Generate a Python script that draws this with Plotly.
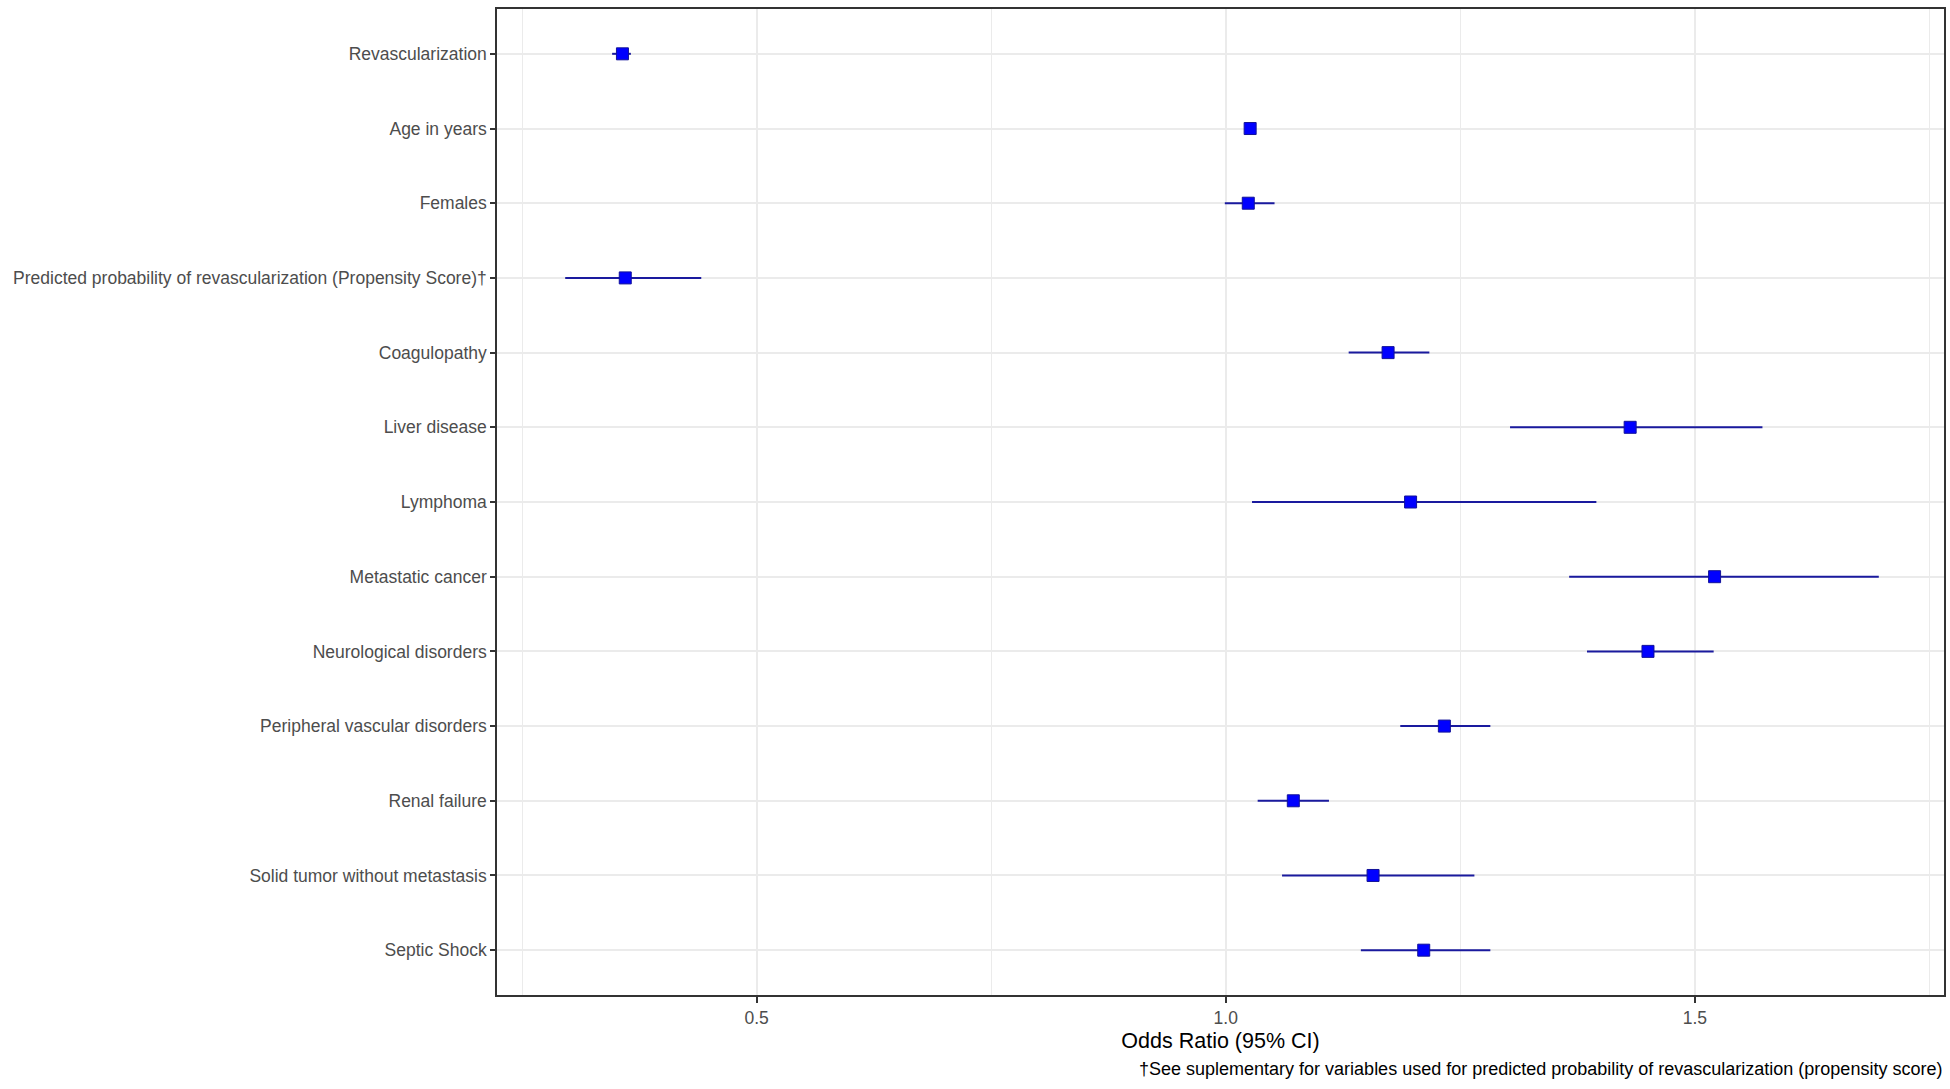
import plotly.graph_objects as go

# ---- data ----
labels = [
    "Revascularization",
    "Age in years",
    "Females",
    "Predicted probability of revascularization (Propensity Score)\u2020",
    "Coagulopathy",
    "Liver disease",
    "Lymphoma",
    "Metastatic cancer",
    "Neurological disorders",
    "Peripheral vascular disorders",
    "Renal failure",
    "Solid tumor without metastasis",
    "Septic Shock",
]
odds_ratio = [0.357, 1.026, 1.024, 0.360, 1.173, 1.431, 1.197, 1.521, 1.450, 1.233, 1.072, 1.157, 1.211]
ci_low =     [0.346, 1.022, 0.999, 0.296, 1.131, 1.303, 1.028, 1.366, 1.385, 1.186, 1.034, 1.060, 1.144]
ci_high =    [0.366, 1.030, 1.052, 0.441, 1.217, 1.572, 1.395, 1.696, 1.520, 1.282, 1.110, 1.265, 1.282]
x_ticks = [0.5, 1.0, 1.5]
x_tick_labels = ["0.5", "1.0", "1.5"]
null_value = 1.0
x_title = "Odds Ratio (95% CI)"
caption = "\u2020See suplementary for variables used for predicted probability of revascularization (propensity score)"

FONT = "Liberation Sans, Arial, sans-serif"

fig = go.Figure()
fig.add_trace(go.Scatter(
    x=odds_ratio,
    y=labels,
    mode="markers",
    marker=dict(symbol="square", size=12, color="#0000ff",
                line=dict(color="#12129a", width=1)),
    error_x=dict(
        type="data", symmetric=False,
        array=[h - o for h, o in zip(ci_high, odds_ratio)],
        arrayminus=[o - l for o, l in zip(odds_ratio, ci_low)],
        width=0, thickness=2, color="#1a1a9e",
    ),
    showlegend=False,
    hoverinfo="x+y",
))

fig.add_vline(x=null_value, line=dict(color="black", width=1.5, dash="dash"), layer="below")

fig.update_layout(
    width=1950, height=1089,
    margin=dict(l=497, r=6, t=9, b=94, autoexpand=False),
    paper_bgcolor="white", plot_bgcolor="white",
    font=dict(family=FONT, size=17.5, color="#4D4D4D"),
    xaxis=dict(
        range=[0.2233, 1.7655],
        automargin=False,
        tickvals=x_ticks, ticktext=x_tick_labels,
        ticks="outside", ticklen=6, tickwidth=1.5, tickcolor="#333333",
        tickfont=dict(size=17.5, color="#4D4D4D"),
        showgrid=True, gridcolor="#EBEBEB", gridwidth=1.5,
        minor=dict(dtick=0.25, tick0=0.25, showgrid=True, gridcolor="#EBEBEB", gridwidth=0.8, ticks=""),
        showline=True, mirror=True, linecolor="#333333", linewidth=1.5,
        zeroline=False,
        title=dict(text=x_title, font=dict(size=21.5, color="black"), standoff=6),
    ),
    yaxis=dict(
        type="category",
        automargin=False,
        categoryorder="array", categoryarray=labels,
        range=[len(labels) - 0.4, -0.6],
        ticks="outside", ticklen=5, tickwidth=1.5, tickcolor="#333333",
        tickfont=dict(size=17.5, color="#4D4D4D"),
        showgrid=True, gridcolor="#EBEBEB", gridwidth=1.5,
        showline=True, mirror=True, linecolor="#333333", linewidth=1.5,
        zeroline=False,
    ),
    annotations=[dict(
        text=caption, xref="paper", yref="paper", x=1.0, y=-0.0755,
        xanchor="right", yanchor="middle", showarrow=False,
        font=dict(family=FONT, size=18, color="black"),
    )],
)

fig.write_html(
    "out.html",
    config={"displayModeBar": False},
    post_script="document.body.style.margin='0';document.body.style.overflow='hidden';",
)
